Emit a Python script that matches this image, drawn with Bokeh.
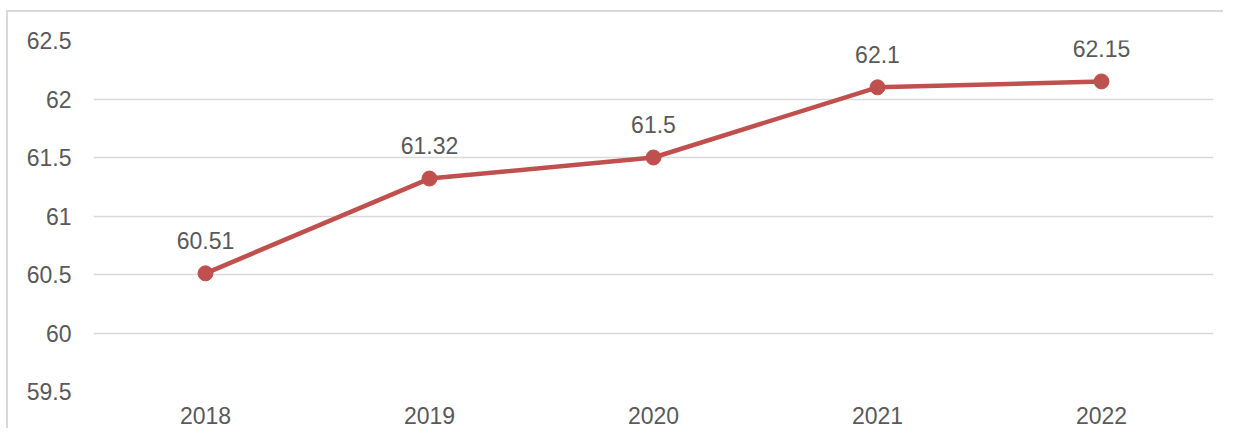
from bokeh.plotting import figure
from bokeh.models import (FactorRange, Range1d, FixedTicker, NumeralTickFormatter, Label,
                          ColumnDataSource)
from bokeh.core.properties import value
from bokeh.embed import file_html
from bokeh.resources import INLINE

title_text = "Aliran Air Tidak Tersumbat Tahun 2018-2022"
years = ["2018", "2019", "2020", "2021", "2022"]
values = [60.51, 61.32, 61.5, 62.1, 62.15]
value_labels = ["60.51", "61.32", "61.5", "62.1", "62.15"]
y_ticks = [59.5, 60, 60.5, 61, 61.5, 62, 62.5]

RED = "#C0504D"
TXT = "#595959"
GRID = "#D9D9D9"
FONT = "Liberation Sans"

src = ColumnDataSource(dict(x=years, y=values, lab=value_labels))

W, H = 1223, 428
ML, MT, MR, MB = 93, 40, 10, 37
p = figure(width=W, height=H, output_backend="svg", toolbar_location=None,
           x_range=FactorRange(*years, range_padding=0),
           y_range=Range1d(59.5, 62.5),
           min_border_left=ML, min_border_right=MR, min_border_top=MT, min_border_bottom=MB)
# outer chart border (top and left edges), drawn behind a transparent canvas border
p.styles = {
    "background-color": "#FFFFFF",
    "background-image": "linear-gradient(#D9D9D9, #D9D9D9), linear-gradient(#D9D9D9, #D9D9D9)",
    "background-position": "7px 10px, 6px 10px",
    "background-size": "calc(100% - 7px) 2px, 2px calc(100% - 10px)",
    "background-repeat": "no-repeat, no-repeat",
}
p.outline_line_color = None
p.background_fill_color = "white"
p.border_fill_alpha = 0

p.xgrid.grid_line_color = None
p.ygrid.grid_line_color = GRID
p.ygrid.grid_line_width = 1.5
p.yaxis.ticker = FixedTicker(ticks=y_ticks)
p.yaxis.formatter = NumeralTickFormatter(format="0.[0]")

for ax in (p.xaxis[0], p.yaxis[0]):
    ax.axis_line_color = None
    ax.major_tick_line_color = None
    ax.minor_tick_line_color = None
    ax.major_tick_in = 0
    ax.major_tick_out = 0
    ax.minor_tick_in = 0
    ax.minor_tick_out = 0
    ax.major_label_text_color = TXT
    ax.major_label_text_font = FONT
    ax.major_label_text_font_size = "23px"
p.yaxis.major_label_standoff = 22
p.xaxis.major_label_standoff = 15

p.line("x", "y", source=src, line_color=RED, line_width=4.5)
p.scatter("x", "y", source=src, size=15, fill_color=RED, line_color=RED)
p.text("x", "y", text="lab", source=src, text_align="center", text_baseline="alphabetic",
       y_offset=-33, text_color=TXT, text_font=value(FONT), text_font_size="23px")

# title sits above the chart box, mostly beyond the top edge as in the reference
frame_h = H - MT - MB
p.add_layout(Label(x=619 - ML, y=frame_h + MT - 6, x_units="screen", y_units="screen",
                   text=title_text, text_align="center", text_baseline="alphabetic",
                   text_color="black", text_font=FONT, text_font_size="28px"))

open("out.html", "w").write(file_html(p, INLINE))
